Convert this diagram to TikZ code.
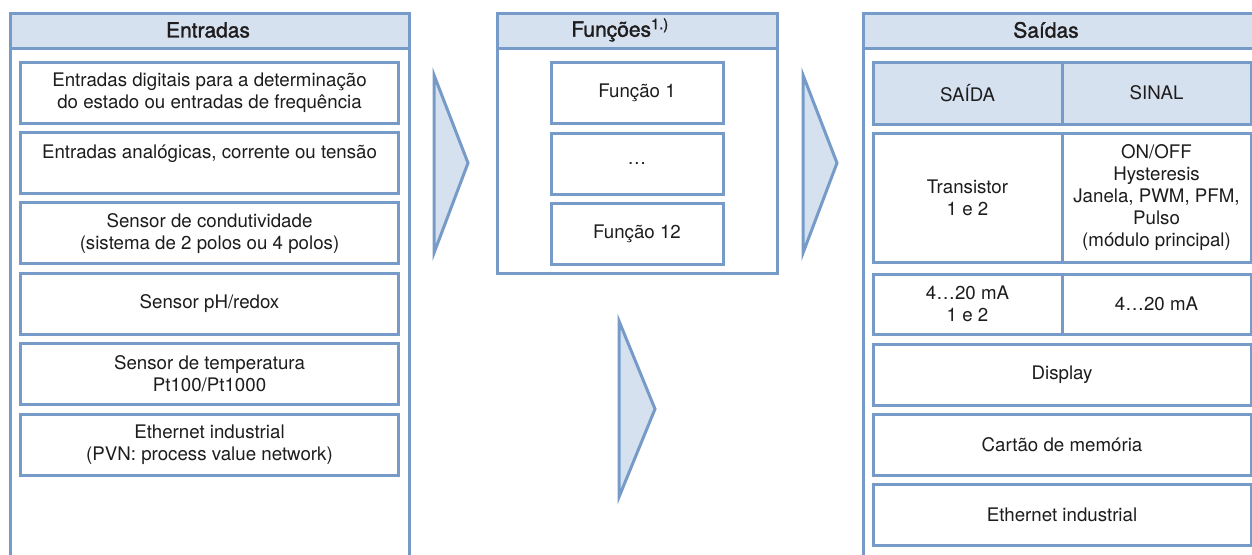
\documentclass[tikz,border=0pt]{standalone}
\usepackage{fontspec}
\setmainfont{TeX Gyre Heros}
\newfontfamily\headfont[FakeBold=1.5]{TeX Gyre Heros}
\definecolor{frame}{RGB}{118,155,200}
\definecolor{head}{RGB}{214,225,240}
\definecolor{ink}{RGB}{30,28,28}

\begin{document}
\begin{tikzpicture}[x=1pt,y=-1pt,
  box/.style={draw=frame,line width=3pt,fill=white,inner sep=0pt,
    align=center,text=ink,font=\fontsize{18.7}{22}\selectfont},
  headbox/.style={box,fill=head},
  panel/.style={draw=frame,line width=3pt,fill=white},
  title/.style={text=ink,inner sep=0pt,font=\headfont\fontsize{21}{24}\selectfont},
  pointer/.style={draw=frame,line width=3pt,fill=head,line join=miter}]
\useasboundingbox (0,0) rectangle (1252,554);
\clip (0,0) rectangle (1252,554);

% Entradas
\filldraw [panel] (10,13) rectangle (409,570);
\filldraw [panel,fill=head] (10,13) rectangle (409,48);
\node [title] (tin) at (208,30) {Entradas};
\foreach \k/\txt in {0/{Entradas digitais para a determinação\\do estado ou entradas de frequência},
                     1/{Entradas analógicas, corrente ou tensão\\\mbox{}},
                     2/{Sensor de condutividade\\(sistema de 2 polos ou 4 polos)},
                     3/{Sensor pH/redox},
                     4/{Sensor de temperatura\\Pt100/Pt1000},
                     5/{Ethernet industrial\\(PVN: process value network)}}
  \node [box,minimum width=378,minimum height=61] (in\k) at (209.5,{92.5+70.4*\k}) {\txt} ;

% Funcoes
\filldraw [panel] (497,13) rectangle (777,273);
\filldraw [panel,fill=head] (497,13) rectangle (777,48);
\node [title] (tfn) at (620,30) {Funções\textsuperscript{1.)}};
\node [box,minimum width=172,minimum height=61] (fn1) at (637,93) {Função 1} ;
\node [box,minimum width=172,minimum height=61] (fn2) at (637,163.5) {…} ;
\node [box,minimum width=172,minimum height=61] (fn3) at (637,234) {Função 12} ;

% Saidas
\filldraw [panel] (863,13) rectangle (1270,570);
\filldraw [panel,fill=head] (863,13) rectangle (1270,48);
\node [title] (tout) at (1046,30) {Saídas};
\node [headbox,minimum width=189,minimum height=62] (hout) at (967.5,93) {SAÍDA} ;
\node [headbox,minimum width=189,minimum height=62] (hsig) at (1156.5,93) {SINAL} ;
\node [box,minimum width=189,minimum height=129] (tro) at (967.5,197.5) {Transistor\\1 e 2} ;
\node [box,minimum width=189,minimum height=129] (trs) at (1156.5,197.5)
  {ON/OFF\\Hysteresis\\Janela, PWM, PFM,\\Pulso\\(módulo principal)} ;
\node [box,minimum width=189,minimum height=60] (mao) at (967.5,304) {4…20 mA\\1 e 2} ;
\node [box,minimum width=189,minimum height=60] (mas) at (1156.5,304) {4…20 mA} ;
\node [box,minimum width=378,minimum height=61] (disp) at (1062,374.5) {Display} ;
\node [box,minimum width=378,minimum height=61] (card) at (1062,444.5) {Cartão de memória} ;
\node [box,minimum width=378,minimum height=61] (eth) at (1062,515) {Ethernet industrial} ;

% arrows between panels
\filldraw [pointer] (434,75) -- (468,163) -- (434,253) -- cycle ;
\filldraw [pointer] (803,75) -- (837,163) -- (803,253) -- cycle ;
\filldraw [pointer] (619,321) -- (655,409) -- (619,497) -- cycle ;
\end{tikzpicture}
\end{document}
